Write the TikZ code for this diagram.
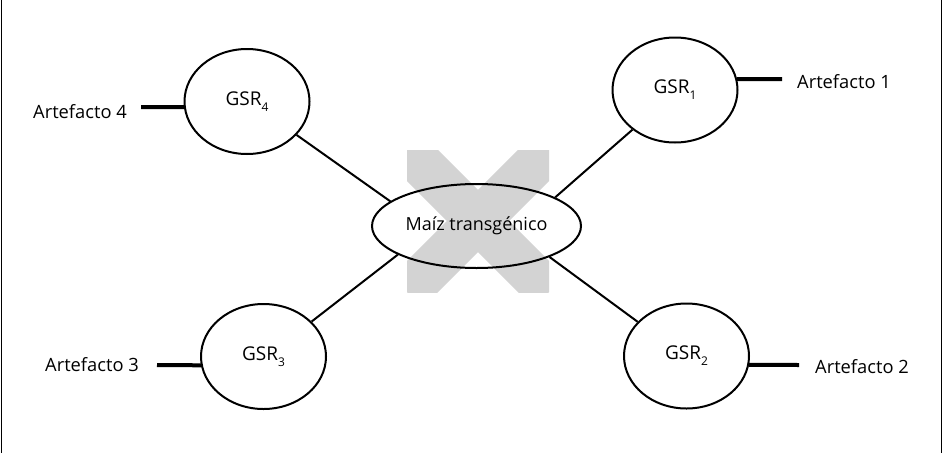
\documentclass[tikz,border=0pt]{standalone}
\usepackage{fontspec}
\setmainfont{Open Sans}
\usetikzlibrary{shapes.geometric}
\definecolor{xgray}{RGB}{211,211,211}
\newcommand\gsrsub[1]{\raisebox{-6pt}{\fontsize{12}{12}\selectfont #1}}
\begin{document}
\begin{tikzpicture}[x=1pt,y=-1pt,
  gsr/.style={ellipse,draw,line width=2pt,minimum width=125pt,minimum height=105pt,inner sep=0pt,font=\fontsize{19}{21}\selectfont},
  hub/.style={ellipse,draw,line width=2pt,minimum width=209pt,minimum height=84pt,inner sep=0pt,fill=none,font=\fontsize{18}{20}\selectfont},
  artlabel/.style={inner sep=0pt,font=\fontsize{18.3}{20}\selectfont},
  link/.style={line width=2pt},
  artlink/.style={line width=4pt}]
\useasboundingbox (0,0) rectangle (944,453);
% frame sides
\draw[line width=1.5pt] (1.5,0) -- (1.5,453);
\draw[line width=1.5pt] (941.5,0) -- (941.5,453);
% grey cross
\begin{scope}
\clip (407,150) rectangle (549,292);
\draw[xgray,line width=44pt] (407,150) -- (549,292) (549,150) -- (407,292);
\end{scope}
% nodes
\node[hub] (m) at (476.5,226) {Maíz transgénico};
\node[gsr] (g1) at (675,90) {GSR\gsrsub{1}};
\node[gsr] (g2) at (686.5,356) {GSR\gsrsub{2}};
\node[gsr] (g3) at (263.5,356.5) {GSR\gsrsub{3}};
\node[gsr] (g4) at (247,101.5) {GSR\gsrsub{4}};
\node[artlabel,anchor=base west] (a1) at (797,88) {Artefacto 1};
\node[artlabel,anchor=base west] (a2) at (815,373) {Artefacto 2};
\node[artlabel,anchor=base west] (a3) at (45,371) {Artefacto 3};
\node[artlabel,anchor=base west] (a4) at (33,118) {Artefacto 4};
% line ends near labels
\coordinate (e1) at (782,79);
\coordinate (e2) at (799,365);
\coordinate (e3) at (157,365);
\coordinate (e4) at (141,107);
% connectors
\draw[link] (g4.-34) -- (m.164.5);
\draw[link] (g1.-137) -- (m.20);
\draw[link] (g3.36) -- (m.200);
\draw[link] (g2.145) -- (m.-23);
\draw[artlink] (g1.10) -- (e1);
\draw[artlink] (g2.-8) -- (e2);
\draw[artlink] (e3) -- (g3.188);
\draw[artlink] (e4) -- (g4.185);
\end{tikzpicture}
\end{document}
